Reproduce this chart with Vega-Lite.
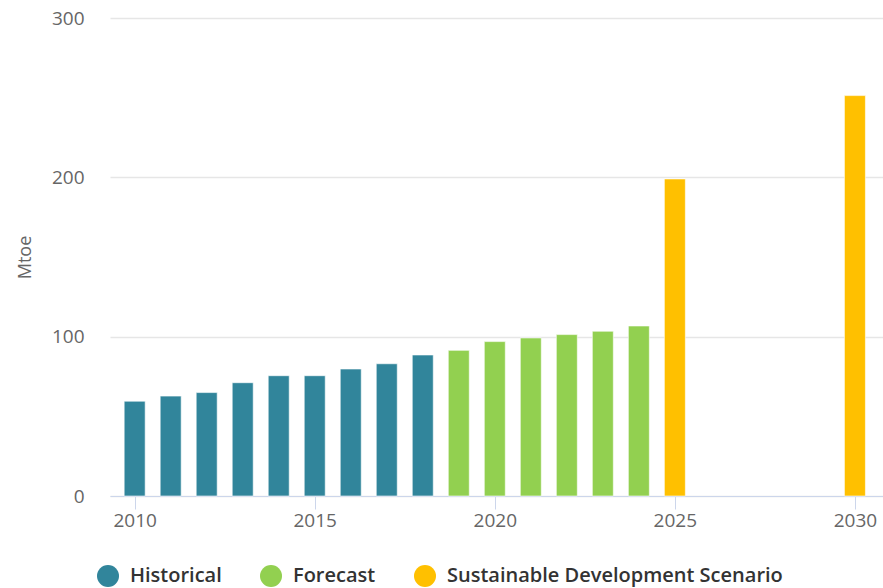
{
  "$schema": "https://vega.github.io/schema/vega-lite/v6.json",
  "width": 773,
  "height": 478,
  "autosize": {"type": "none"},
  "padding": {"left": 110, "top": 18, "right": 0, "bottom": 92},
  "background": "white",
  "config": {
    "view": {"stroke": null},
    "font": "Open Sans"
  },
  "data": {
    "values": [
      {"year": 2010, "value": 59.5, "series": "Historical"},
      {"year": 2011, "value": 62.7, "series": "Historical"},
      {"year": 2012, "value": 64.9, "series": "Historical"},
      {"year": 2013, "value": 71.1, "series": "Historical"},
      {"year": 2014, "value": 75.5, "series": "Historical"},
      {"year": 2015, "value": 75.5, "series": "Historical"},
      {"year": 2016, "value": 79.7, "series": "Historical"},
      {"year": 2017, "value": 83.0, "series": "Historical"},
      {"year": 2018, "value": 88.5, "series": "Historical"},
      {"year": 2019, "value": 91.4, "series": "Forecast"},
      {"year": 2020, "value": 96.9, "series": "Forecast"},
      {"year": 2021, "value": 99.2, "series": "Forecast"},
      {"year": 2022, "value": 101.3, "series": "Forecast"},
      {"year": 2023, "value": 103.4, "series": "Forecast"},
      {"year": 2024, "value": 106.7, "series": "Forecast"},
      {"year": 2025, "value": 199.0, "series": "Sustainable Development Scenario"},
      {"year": 2030, "value": 251.3, "series": "Sustainable Development Scenario"}
    ]
  },
  "mark": {"type": "bar", "size": 21, "stroke": "white", "strokeWidth": 1, "strokeOpacity": 0.6},
  "encoding": {
    "x": {
      "field": "year",
      "type": "quantitative",
      "scale": {"domain": [2009.315, 2030.78], "nice": false, "zero": false, "padding": 0},
      "axis": {
        "values": [2010, 2015, 2020, 2025, 2030],
        "format": "d",
        "title": null,
        "grid": false,
        "domainColor": "#ccd6eb",
        "domainWidth": 1,
        "tickColor": "#ccd6eb",
        "tickSize": 13,
        "labelFontSize": 19,
        "labelColor": "#666666",
        "labelPadding": 2
      }
    },
    "y": {
      "field": "value",
      "type": "quantitative",
      "scale": {"domain": [0, 300], "nice": false},
      "axis": {
        "values": [0, 100, 200, 300],
        "title": "Mtoe",
        "titleFontSize": 18,
        "titleFontWeight": "normal",
        "titleColor": "#666666",
        "titlePadding": 17,
        "domain": false,
        "ticks": false,
        "grid": true,
        "gridColor": "#e6e6e6",
        "gridWidth": 1.5,
        "labelFontSize": 19,
        "labelColor": "#666666",
        "labelPadding": 26
      }
    },
    "color": {
      "field": "series",
      "type": "nominal",
      "scale": {
        "domain": ["Historical", "Forecast", "Sustainable Development Scenario"],
        "range": ["#31859b", "#92d050", "#ffc000"]
      },
      "legend": {
        "title": null,
        "orient": "none",
        "direction": "horizontal",
        "legendX": -13,
        "legendY": 547,
        "symbolType": "circle",
        "symbolSize": 484,
        "symbolStrokeWidth": 0,
        "symbolOpacity": 1,
        "labelFontSize": 20,
        "labelFontWeight": 600,
        "labelColor": "#333333",
        "labelOffset": 11,
        "labelLimit": 500,
        "columnPadding": 38
      }
    }
  }
}
